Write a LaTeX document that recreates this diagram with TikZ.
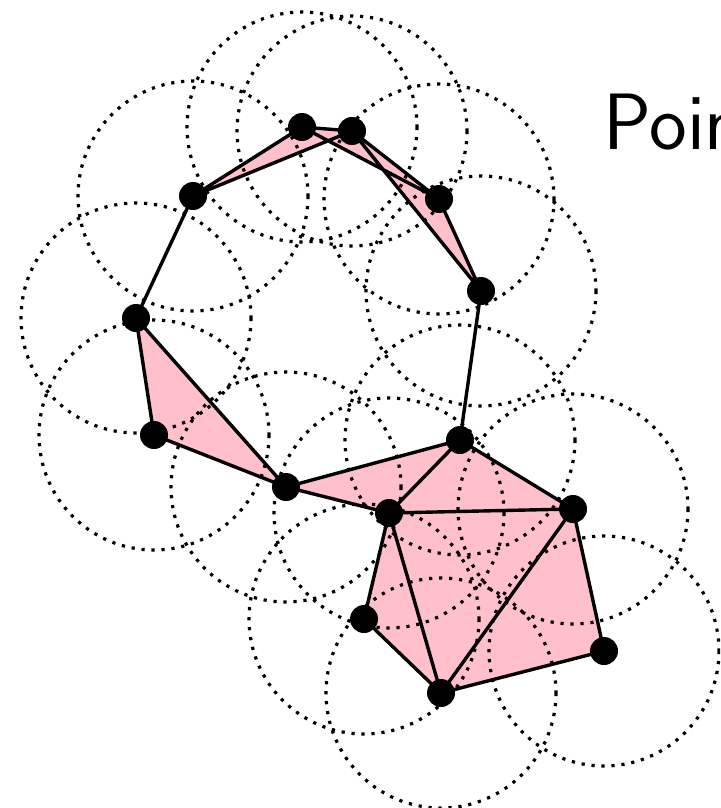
\documentclass[tikz,border=0pt]{standalone}
\begin{document}
\begin{tikzpicture}[x=0.5pt,y=-0.5pt,
  ball/.style={dash pattern=on 1.6pt off 3.4pt,line width=1.6pt,draw=black},
  edge/.style={draw=black,line width=1.7pt,line join=round},
  vert/.style={circle,fill=black,inner sep=0pt,minimum size=14pt}]
\definecolor{pinkfill}{RGB}{255,192,203}
\useasboundingbox (0,0) rectangle (720,808);
\clip (0,0) rectangle (720,808);
\coordinate (A) at (302,127);
\coordinate (B) at (352,131);
\coordinate (C) at (193,196);
\coordinate (D) at (439,199);
\coordinate (E) at (481,291);
\coordinate (F) at (136,318);
\coordinate (G) at (154,435);
\coordinate (H) at (460,440);
\coordinate (I) at (286,487);
\coordinate (J) at (389,513);
\coordinate (K) at (573,509);
\coordinate (L) at (364,619);
\coordinate (M) at (604,651);
\coordinate (N) at (441,693);
% filled triangles
\fill[pinkfill] (C)--(A)--(B)--cycle;
\fill[pinkfill] (A)--(B)--(D)--cycle;
\fill[pinkfill] (B)--(D)--(E)--cycle;
\fill[pinkfill] (F)--(G)--(I)--cycle;
\fill[pinkfill] (I)--(H)--(J)--cycle;
\fill[pinkfill] (H)--(J)--(K)--cycle;
\fill[pinkfill] (J)--(L)--(N)--cycle;
\fill[pinkfill] (J)--(K)--(N)--cycle;
\fill[pinkfill] (K)--(M)--(N)--cycle;
% dotted balls
\foreach \p in {A,B,C,D,E,F,G,H,I,J,K,L,M,N}
  \draw[ball] (\p) circle[radius=115];
% edges
\draw[edge] (C)--(A) (C)--(B) (A)--(B) (A)--(D) (B)--(D) (B)--(E) (D)--(E);
\draw[edge] (C)--(F) (F)--(G) (F)--(I) (G)--(I) (E)--(H);
\draw[edge] (I)--(H) (I)--(J) (H)--(J) (H)--(K) (J)--(K) (J)--(L) (J)--(N)
  (L)--(N) (K)--(N) (K)--(M) (M)--(N);
% vertices
\foreach \p in {A,B,C,D,E,F,G,H,I,J,K,L,M,N}
  \node[vert] (v\p) at (\p) {};
\node[anchor=base west,inner sep=0pt,font=\fontsize{40}{48}\selectfont\sffamily] (title) at (603,149) {Points};
\end{tikzpicture}
\end{document}
